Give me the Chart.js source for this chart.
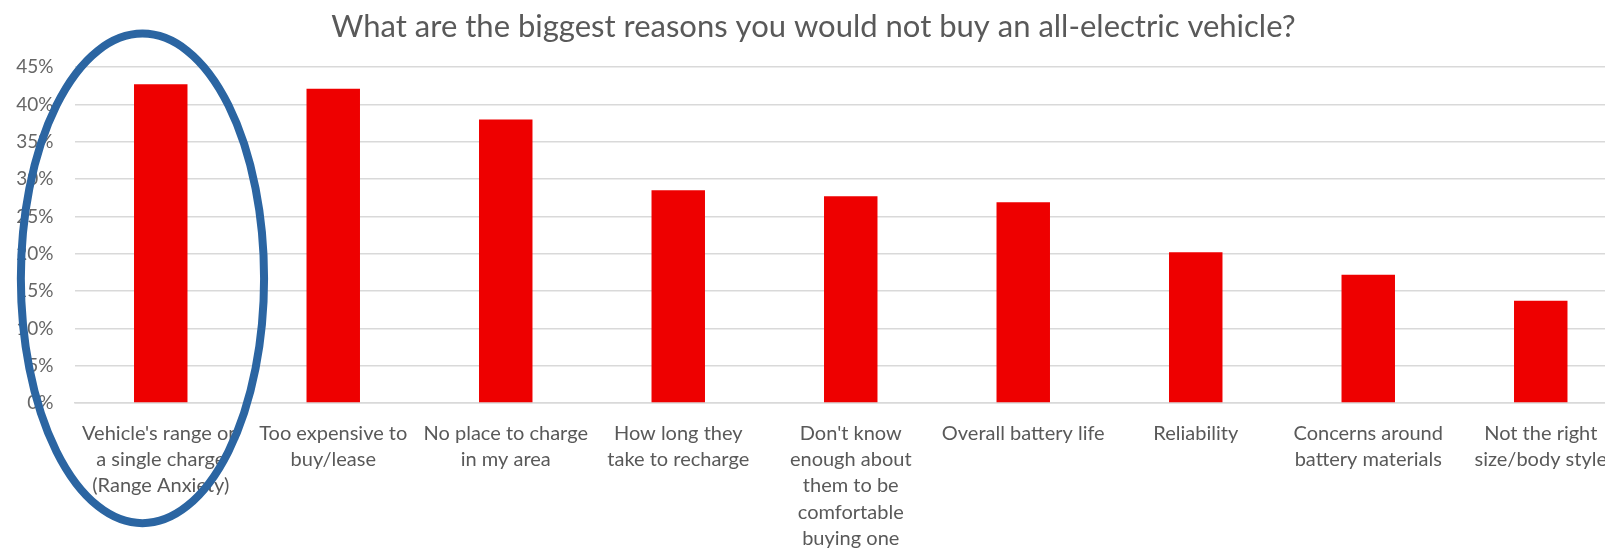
<!DOCTYPE html>
<html>
<head>
<meta charset="utf-8">
<title>Reasons not to buy an all-electric vehicle</title>
<script src="https://cdn.jsdelivr.net/npm/chart.js@4/dist/chart.umd.min.js"></script>
<style>
  html, body { margin: 0; padding: 0; background: #fff; overflow: hidden; }
  #wrap { width: 1640px; height: 548px; }
</style>
</head>
<body>
<div id="wrap"><canvas id="reasonsChart" width="1640" height="548"></canvas></div>
<script>
// --- data ---
const reasons = [
    ["Vehicle's range on", "a single charge", "(Range Anxiety)"],
    ["Too expensive to", "buy/lease"],
    ["No place to charge", "in my area"],
    ["How long they", "take to recharge"],
    ["Don't know", "enough about", "them to be", "comfortable", "buying one"],
    "Overall battery life",
    "Reliability",
    ["Concerns around", "battery materials"],
    ["Not the right", "size/body style"]
];
const shares = [42.7, 42.1, 38.0, 28.5, 27.7, 26.9, 20.2, 17.2, 13.7];
const yTicks = [0, 5, 10, 15, 20, 25, 30, 35, 40, 45];

// blue ring drawn round the first category (annotation)
const ring = { category: 0, shift: -0.106, yCenter: 16.7, rxCats: 0.705, ryValue: 32.8 };

const ringPlugin = {
    id: 'ring',
    afterDraw(chart) {
        const xs = chart.scales.x, ys = chart.scales.y;
        const catW = xs.getPixelForValue(1) - xs.getPixelForValue(0);
        const cx = xs.getPixelForValue(ring.category) + ring.shift * catW;
        const cy = ys.getPixelForValue(ring.yCenter);
        const rx = ring.rxCats * catW;
        const ry = ys.getPixelForValue(0) - ys.getPixelForValue(ring.ryValue);
        const c = chart.ctx;
        c.save();
        c.beginPath();
        c.ellipse(cx, cy, rx, ry, 0, 0, Math.PI * 2);
        c.lineWidth = 8;
        c.strokeStyle = '#2b65a2';
        c.stroke();
        c.restore();
    }
};

new Chart(document.getElementById('reasonsChart'), {
    type: 'bar',
    data: {
        labels: reasons,
        datasets: [{
            data: shares,
            backgroundColor: '#ee0000',
            barPercentage: 0.62,
            categoryPercentage: 0.5
        }]
    },
    options: {
        responsive: false,
        animation: false,
        layout: { padding: { top: 0, right: 13, bottom: 0, left: 0 } },
        plugins: {
            legend: { display: false },
            tooltip: { enabled: false },
            title: {
                display: true,
                text: 'What are the biggest reasons you would not buy an all-electric vehicle?',
                color: '#595959',
                font: { family: 'Lato', size: 31, weight: 'normal' },
                padding: { top: 8, bottom: 22 }
            }
        },
        scales: {
            x: {
                grid: { display: false, drawTicks: false },
                border: { color: '#d9d9d9', width: 1.5 },
                ticks: {
                    color: '#595959',
                    font: { family: 'Lato', size: 20, lineHeight: 1.32 },
                    padding: 17,
                    maxRotation: 0,
                    autoSkip: false
                },
                afterFit(axis) { axis.height = 145; }
            },
            y: {
                min: 0,
                max: 45,
                afterBuildTicks(axis) { axis.ticks = yTicks.map(v => ({ value: v })); },
                grid: { color: '#d9d9d9', lineWidth: 1.5, drawTicks: false },
                border: { display: false },
                ticks: {
                    color: '#666666',
                    font: { family: 'Lato', size: 19 },
                    padding: 21,
                    callback: v => v + '%'
                },
                afterFit(axis) { axis.width = 74.5; }
            }
        }
    },
    plugins: [ringPlugin]
});
</script>
</body>
</html>
